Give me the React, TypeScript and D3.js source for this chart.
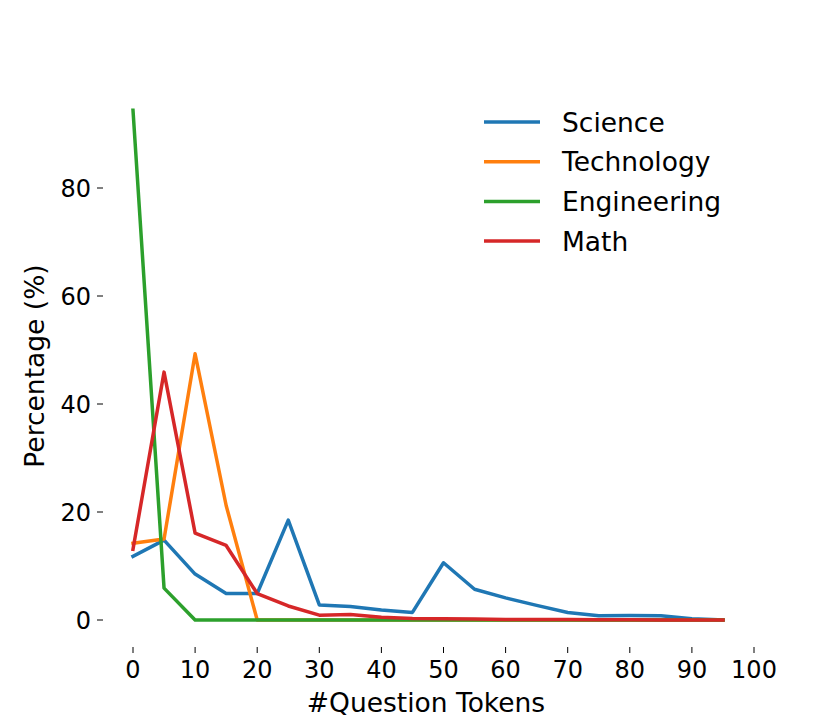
import React from 'react';
import * as d3 from 'd3';

const tokens = [0, 5, 10, 15, 20, 25, 30, 35, 40, 45, 50, 55, 60, 65, 70, 75, 80, 85, 90, 95];
const science = [11.8, 14.8, 8.5, 4.9, 4.9, 18.5, 2.8, 2.5, 1.85, 1.4, 10.6, 5.7, 4.1, 2.7, 1.4, 0.8, 0.85, 0.8, 0.25, 0];
const technology = [14.2, 15, 49.3, 21.2, 0, 0, 0, 0, 0, 0, 0, 0, 0, 0, 0, 0, 0, 0, 0, 0];
const engineering = [94.4, 5.9, 0, 0, 0, 0, 0, 0, 0, 0, 0, 0, 0, 0, 0, 0, 0, 0, 0, 0];
const math = [13.1, 45.9, 16.1, 13.8, 4.9, 2.6, 0.9, 1.0, 0.5, 0.3, 0.25, 0.2, 0.1, 0.1, 0.1, 0.05, 0.05, 0, 0, 0];

const seriesNames = ['Science', 'Technology', 'Engineering', 'Math'];
const seriesColors = ['#1f77b4', '#ff7f0e', '#2ca02c', '#d62728'];
const xTicks = [0, 10, 20, 30, 40, 50, 60, 70, 80, 90, 100];
const yTicks = [0, 20, 40, 60, 80];

const W = 830;
const H = 726;
const font = 'DejaVu Sans, sans-serif';

export default function App() {
  const x = d3.scaleLinear().domain([0, 100]).range([133, 754]);
  const y = d3.scaleLinear().domain([0, 80]).range([620, 188]);
  const axisLeft = 103;
  const axisBottom = 647;

  const all = [science, technology, engineering, math];
  const line = d3.line<number>()
    .x((_, i) => x(tokens[i]))
    .y(d => y(d));

  return (
    <svg width={W} height={H} style={{ display: 'block', margin: '-8px' }} fontFamily={font}>
      <rect width={W} height={H} fill="#fff" />
      {yTicks.map(t => (
        <g key={'y' + t}>
          <line x1={axisLeft - 6} x2={axisLeft} y1={y(t)} y2={y(t)} stroke="#000" strokeWidth={1} />
          <text x={axisLeft - 12} y={y(t)} dy="0.36em" textAnchor="end" fontSize={24}>{t}</text>
        </g>
      ))}
      {xTicks.map(t => (
        <g key={'x' + t}>
          <line x1={x(t)} x2={x(t)} y1={axisBottom} y2={axisBottom + 6} stroke="#000" strokeWidth={1} />
          <text x={x(t)} y={axisBottom + 31} textAnchor="middle" fontSize={24}>{t}</text>
        </g>
      ))}
      {all.map((s, k) => (
        <path key={seriesNames[k]} d={line(s) || ''} fill="none" stroke={seriesColors[k]}
          strokeWidth={3.5} strokeLinejoin="round" strokeLinecap="square" />
      ))}
      <text x={426} y={712} textAnchor="middle" fontSize={26.5}>#Question Tokens</text>
      <text transform="translate(44,366) rotate(-90)" textAnchor="middle" fontSize={26.5}>Percentage (%)</text>
      {seriesNames.map((n, k) => (
        <g key={'l' + n} transform={`translate(0,${122 + k * 39.7})`}>
          <line x1={484} x2={540} y1={0} y2={0} stroke={seriesColors[k]} strokeWidth={3.5} />
          <text x={562} y={0} dy="0.36em" fontSize={26.5}>{n}</text>
        </g>
      ))}
    </svg>
  );
}
